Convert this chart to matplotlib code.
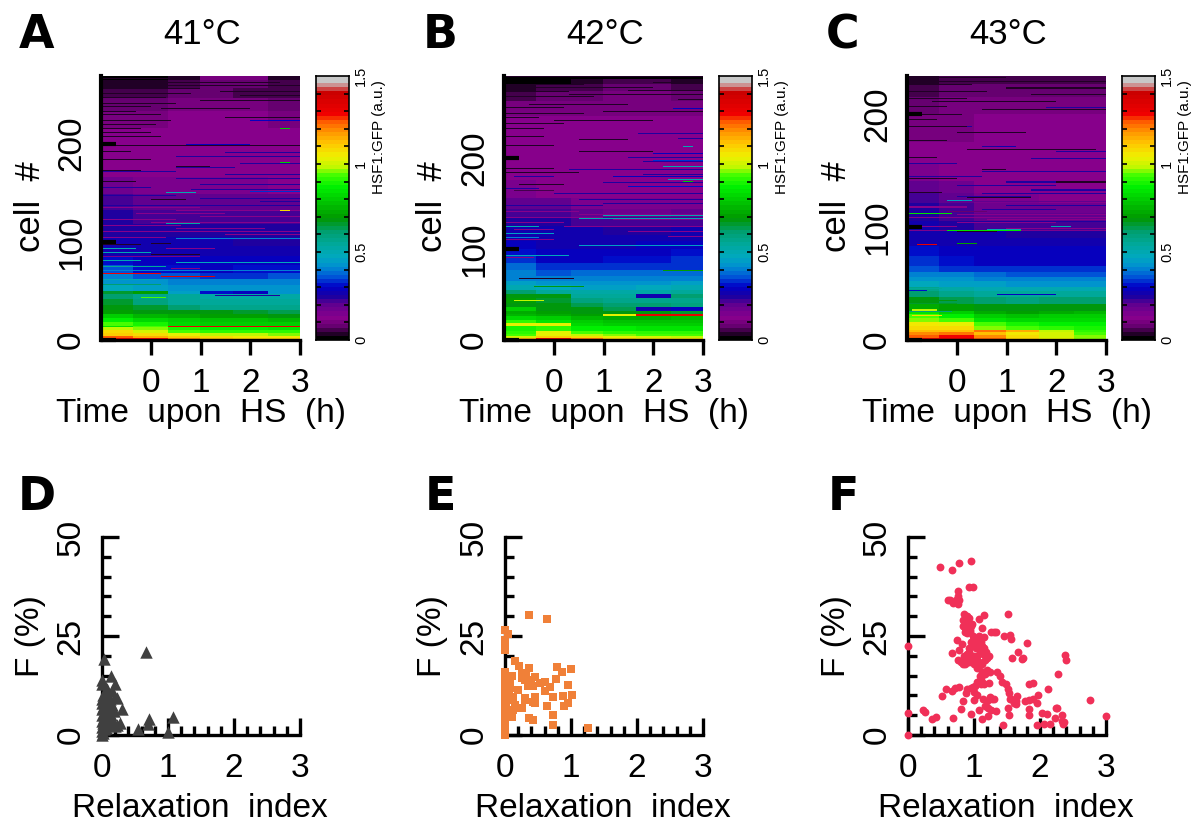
#!/usr/bin/env python3
# -*- coding: utf-8 -*-

"""
	heat maps of HSF1:GFP per cell, and F (%) against relaxation index
"""

import numpy as np
import matplotlib
matplotlib.use("Agg")
import matplotlib.pyplot as plt
from matplotlib.colors import LinearSegmentedColormap

plt.rcParams['font.family'] = ['Liberation Sans', 'DejaVu Sans']

W, H = 1191, 822

titles = ["41°C", "42°C", "43°C"]
heat_letters = ["A", "B", "C"]
scatter_letters = ["D", "E", "F"]
time_ticks = [0, 1, 2, 3]
cell_ticks = [0, 100, 200]
n_cells = [269, 290, 234]
time_edges = [-1, -0.33, 0.33, 1, 1.67, 2.33, 3]

# colour bar stops
cbar_values = [0, 0.03, 0.07, 0.12, 0.2, 0.24, 0.3, 0.36, 0.42, 0.47, 0.55, 0.62, 0.7, 0.78, 0.88, 0.95, 1.0, 1.06, 1.13, 1.2, 1.26, 1.31, 1.44, 1.46, 1.5]
cbar_colors = ["#000000", "#2a0030", "#660070", "#88008c", "#5c0090", "#1c00a0", "#0000c8", "#0058d8", "#0090d0", "#00a8c0", "#00a898", "#009f70", "#009800", "#00c000", "#00f000", "#40ff00", "#c0f800", "#f0f000", "#ffc800", "#ff9800", "#ff6000", "#f00000", "#c80000", "#d07070", "#c8c8c8"]

# bands of each heat map: top cell of band, then value in the six time columns
tops_a = [2, 4, 7, 10, 13, 14, 18, 22, 26, 30, 36, 42, 47, 50, 56, 62, 68, 76, 85, 95, 105, 118, 132, 148, 165, 185, 215, 232, 246, 256, 264, 269]
vals_a = [
	[1.33, 1.3, 1.2, 1.14, 1.12, 1.12],
	[1.26, 1.16, 1.12, 1.08, 1.07, 1.07],
	[1.12, 1.09, 1.04, 1.0, 1.0, 0.98],
	[1.08, 1.02, 0.96, 0.92, 0.92, 0.92],
	[1.0, 0.97, 0.9, 0.88, 0.88, 0.86],
	[0.86, 0.95, 1.3, 1.33, 1.33, 1.33],
	[0.96, 0.9, 0.84, 0.82, 0.82, 0.8],
	[0.88, 0.84, 0.8, 0.78, 0.78, 0.76],
	[0.8, 0.76, 0.74, 0.72, 0.72, 0.7],
	[0.72, 0.7, 0.68, 0.68, 0.66, 0.64],
	[0.68, 0.66, 0.62, 0.58, 0.58, 0.58],
	[0.66, 0.6, 0.56, 0.56, 0.55, 0.55],
	[0.62, 0.58, 0.54, 0.53, 0.52, 0.52],
	[0.66, 0.72, 0.46, 0.32, 0.3, 0.44],
	[0.47, 0.46, 0.44, 0.43, 0.43, 0.44],
	[0.44, 0.43, 0.41, 0.4, 0.4, 0.41],
	[0.42, 0.36, 0.36, 0.35, 0.35, 0.36],
	[0.36, 0.31, 0.31, 0.3, 0.31, 0.32],
	[0.32, 0.29, 0.29, 0.29, 0.29, 0.29],
	[0.28, 0.27, 0.27, 0.27, 0.27, 0.27],
	[0.27, 0.26, 0.26, 0.26, 0.25, 0.25],
	[0.25, 0.24, 0.24, 0.24, 0.24, 0.24],
	[0.24, 0.23, 0.23, 0.23, 0.23, 0.23],
	[0.22, 0.21, 0.2, 0.2, 0.2, 0.2],
	[0.18, 0.16, 0.15, 0.15, 0.15, 0.14],
	[0.14, 0.13, 0.13, 0.13, 0.13, 0.13],
	[0.12, 0.12, 0.12, 0.12, 0.12, 0.12],
	[0.1, 0.11, 0.12, 0.12, 0.12, 0.11],
	[0.08, 0.09, 0.1, 0.1, 0.1, 0.09],
	[0.05, 0.06, 0.08, 0.08, 0.07, 0.06],
	[0.03, 0.04, 0.06, 0.08, 0.08, 0.05],
	[0.01, 0.02, 0.03, 0.11, 0.11, 0.03],
]
tops_b = [2, 4, 7, 10, 15, 19, 22, 26, 28, 32, 36, 40, 46, 50, 55, 60, 65, 70, 77, 84, 92, 100, 108, 115, 125, 135, 143, 155, 175, 210, 245, 262, 272, 280, 286, 290]
vals_b = [
	[1.15, 1.34, 1.22, 1.12, 1.08, 1.08],
	[1.02, 1.12, 1.08, 1.04, 1.02, 1.0],
	[0.96, 1.04, 1.0, 0.97, 0.96, 0.96],
	[0.92, 1.05, 0.96, 0.92, 0.92, 0.92],
	[0.9, 0.92, 0.88, 0.87, 0.86, 0.86],
	[1.05, 1.05, 0.84, 0.82, 0.82, 0.82],
	[0.92, 0.86, 0.8, 0.78, 0.78, 0.78],
	[0.84, 0.8, 0.76, 0.74, 0.74, 0.76],
	[0.76, 0.74, 0.72, 1.05, 1.33, 1.33],
	[0.74, 0.72, 0.7, 0.68, 0.68, 0.66],
	[0.8, 0.7, 0.68, 0.64, 0.28, 0.3],
	[0.7, 0.68, 0.64, 0.62, 0.62, 0.6],
	[0.72, 0.66, 0.6, 0.58, 0.58, 0.58],
	[0.68, 0.7, 0.56, 0.56, 0.28, 0.62],
	[0.62, 0.56, 0.52, 0.52, 0.52, 0.54],
	[0.5, 0.48, 0.46, 0.46, 0.48, 0.5],
	[0.46, 0.43, 0.43, 0.43, 0.44, 0.45],
	[0.42, 0.41, 0.42, 0.42, 0.42, 0.42],
	[0.4, 0.37, 0.38, 0.38, 0.38, 0.38],
	[0.38, 0.33, 0.33, 0.33, 0.34, 0.35],
	[0.34, 0.3, 0.3, 0.31, 0.31, 0.33],
	[0.32, 0.29, 0.29, 0.3, 0.3, 0.31],
	[0.3, 0.28, 0.28, 0.28, 0.29, 0.29],
	[0.28, 0.27, 0.27, 0.27, 0.27, 0.28],
	[0.26, 0.26, 0.26, 0.25, 0.25, 0.26],
	[0.24, 0.24, 0.23, 0.22, 0.22, 0.23],
	[0.22, 0.22, 0.2, 0.18, 0.18, 0.19],
	[0.2, 0.19, 0.16, 0.15, 0.15, 0.16],
	[0.15, 0.14, 0.13, 0.13, 0.13, 0.13],
	[0.13, 0.12, 0.12, 0.12, 0.12, 0.12],
	[0.12, 0.12, 0.12, 0.12, 0.12, 0.12],
	[0.1, 0.1, 0.11, 0.11, 0.11, 0.1],
	[0.07, 0.08, 0.09, 0.1, 0.1, 0.09],
	[0.04, 0.05, 0.06, 0.08, 0.08, 0.07],
	[0.02, 0.02, 0.04, 0.06, 0.05, 0.04],
	[0.0, 0.0, 0.01, 0.02, 0.0, 0.0],
]
tops_c = [2, 4, 7, 9, 12, 16, 19, 23, 26, 32, 38, 43, 47, 52, 56, 60, 65, 74, 83, 90, 97, 105, 112, 121, 130, 140, 155, 175, 200, 215, 226, 234]
vals_c = [
	[1.36, 1.36, 1.26, 1.12, 1.04, 0.98],
	[1.26, 1.3, 1.2, 1.1, 1.03, 0.98],
	[1.2, 1.22, 1.14, 1.06, 1.02, 0.96],
	[1.14, 1.14, 1.22, 1.16, 1.0, 0.92],
	[1.08, 1.08, 0.98, 0.96, 0.92, 0.9],
	[1.06, 1.04, 0.94, 0.9, 0.88, 0.88],
	[0.98, 0.96, 0.86, 0.84, 0.84, 0.84],
	[0.94, 0.88, 0.8, 0.78, 0.8, 0.8],
	[0.86, 0.8, 0.74, 0.72, 0.74, 0.76],
	[0.74, 0.72, 0.68, 0.68, 0.68, 0.68],
	[0.68, 0.64, 0.62, 0.6, 0.62, 0.62],
	[0.62, 0.58, 0.56, 0.56, 0.56, 0.56],
	[0.58, 0.52, 0.5, 0.5, 0.5, 0.5],
	[0.47, 0.46, 0.46, 0.44, 0.44, 0.44],
	[0.44, 0.44, 0.42, 0.42, 0.41, 0.41],
	[0.4, 0.4, 0.38, 0.37, 0.37, 0.37],
	[0.36, 0.35, 0.33, 0.33, 0.33, 0.33],
	[0.33, 0.32, 0.3, 0.3, 0.3, 0.3],
	[0.32, 0.3, 0.29, 0.29, 0.29, 0.29],
	[0.28, 0.28, 0.27, 0.27, 0.27, 0.27],
	[0.27, 0.26, 0.26, 0.25, 0.25, 0.25],
	[0.26, 0.25, 0.23, 0.22, 0.22, 0.22],
	[0.25, 0.23, 0.2, 0.2, 0.2, 0.2],
	[0.24, 0.22, 0.17, 0.17, 0.17, 0.17],
	[0.23, 0.2, 0.15, 0.15, 0.14, 0.14],
	[0.2, 0.17, 0.13, 0.13, 0.13, 0.13],
	[0.16, 0.14, 0.12, 0.12, 0.12, 0.12],
	[0.13, 0.12, 0.12, 0.12, 0.12, 0.12],
	[0.11, 0.11, 0.12, 0.12, 0.12, 0.12],
	[0.09, 0.1, 0.11, 0.11, 0.11, 0.1],
	[0.06, 0.08, 0.09, 0.09, 0.09, 0.08],
	[0.03, 0.05, 0.06, 0.07, 0.07, 0.05],
]

# single rows that stand out: cell, time from, time to, value
stripes_a = [(43, -0.2, 0.3, 0.95), (45, 1.3, 2.6, 0.25), (56, -1, 0.2, 0.62), (61, -1, 0.1, 0.5), (64, 0.2, 1.3, 1.35), (67, -1, 0.2, 1.3), (70, -1, 3, 0.42), (74, -1, 0.3, 0.55), (78, 0.5, 3, 0.48), (80, -1, -0.2, 0.5), (84, -1, 1, 0.15), (88, -1, 0.0, 0.5), (92, -1, -0.3, 0.5), (97, 0.0, 0.4, 0.04), (103, 0.5, 3, 0.4), (118, 0.3, 1, 0.52), (149, 0.3, 0.9, 0.5), (150, 2.0, 3, 0.34), (198, 0.7, 2, 0.3), (222, 2.0, 3, 0.3), (214, 2.6, 2.8, 0.8), (131, 2.6, 2.8, 1.1), (180, 2.6, 2.8, 0.8)]
stripes_b = [(43, -0.8, -0.2, 1.0), (58, -0.4, 0.6, 0.68), (63, -0.4, 0.6, 0.05), (67, -0.7, 0.4, 0.04), (76, 2.2, 3, 0.72), (92, -1, 0.3, 0.48), (103, 0.5, 3, 0.46), (112, -1, -0.3, 0.42), (116, -1, 0, 0.45), (124, -1, -0.3, 0.5), (132, 0.5, 3, 0.5), (136, 1, 3, 0.5), (163, -0.8, 0, 0.06), (167, 1.5, 3, 0.32), (175, 2.3, 3, 0.5), (178, 1.2, 3, 0.3), (189, 2.2, 3, 0.5), (196, 2.0, 3, 0.34), (204, 2, 3, 0.3), (253, 2.4, 3, 0.3), (211, 2.6, 2.8, 0.5), (173, 2.6, 2.8, 0.8)]
stripes_c = [(25, -1, -0.1, 0.6), (21, -0.9, -0.3, 1.1), (26, -0.9, -0.4, 1.0), (32, -1, 0, 0.66), (34, -1, 0, 0.7), (40, 0.8, 2, 0.3), (43, -1, -0.6, 0.32), (45, -1, -0.3, 0.55), (84, -0.8, -0.4, 1.33), (85, 0, 0.4, 0.72), (96, -1, 3, 0.16), (96, -0.2, 1.3, 0.85), (97, 0.6, 1.3, 0.5), (100, 1.9, 2.3, 0.5), (104, 0, 3, 0.25), (111, -1, -0.1, 0.85), (113, -0.2, 0.6, 0.08), (117, -1, 0.2, 0.12), (122, 0, 3, 0.2), (123, -0.2, 0.3, 0.45), (170, 0.8, 1.2, 0.28)]

# dark rows that run in from the left or right: cell, time from, time to
dark_a = [(265, -1, 1.0), (261, -1, 2.6), (258, -1, 3), (255, -1, 1.0), (252, 1.4, 3), (250, -1, 0.8), (248, 1.8, 3), (246, -1, 0.3), (243, 1.0, 3), (240, -1, 0.5), (237, -1, 0.0), (234, 0.2, 2), (231, -1, -0.3), (228, -1, 0.2), (225, 1.5, 3), (222, -1, 0.4), (218, -1, 0.1), (214, -1, -0.2), (210, -1, 0.0), (206, -1, 0.2), (197, -0.7, 3), (191, -1, -0.4), (183, -1, 0.0), (176, 0.5, 1.2), (172, -1, -0.2), (167, -1, 0.0), (160, -1, -0.3), (142, 0.0, 0.7), (96, -1, -0.2), (86, 0, 1.0)]
dark_b = [(288, -1, 3), (284, -1, 1.5), (281, 2, 3), (279, -1, 0.6), (276, -1, 2.0), (273, 1.5, 3), (271, -1, 0.3), (268, 0.3, 3), (266, -1, 0.8), (263, 2.5, 3), (260, -1, 0.4), (257, -0.5, 1.5), (254, -1, 0.2), (250, 1, 3), (247, -1, 0.6), (243, -1, -0.3), (240, 0, 2), (236, -1, 0.2), (231, -1, -0.2), (226, 1.7, 3), (222, -1, -0.2), (219, 0.5, 1.5), (212, -1, 0), (206, 0.5, 2), (187, -1, 0.0), (183, -1, 0.5), (170, -0.7, 0.2)]
dark_c = [(231, -1, 1.0), (228, -1, 3), (225, -1, 0.3), (222, 1, 3), (219, -1, 0.6), (216, 1.5, 3), (213, -1, 0.2), (210, -0.5, 2), (206, -1, -0.2), (203, 0.5, 3), (199, -1, 0.1), (194, -1, -0.4), (188, -1, 0.2), (183, 0, 1.4), (176, -1, -0.2), (168, 0.2, 2.8), (161, -1, -0.4), (150, 0.5, 1.0), (142, -1, 0.0), (139, 2.0, 3), (130, -1, -0.3), (125, 0.2, 1.5), (95, 0.0, 0.8)]

# blue rows in the purple part: cell, time from, time to
blue_a = [(225, 1.5, 2.2), (190, 1.5, 3), (186, 0.5, 3), (183, -1, 0.0), (179, 1.8, 3), (175, 0.5, 1.7), (171, -1, 0.5), (168, 1.5, 3), (163, 0.5, 3), (157, 1.0, 3), (154, -1, 0.0), (152, 0.8, 3), (146, -1, 0.5), (143, 1.0, 3), (140, 2.2, 3), (136, -1, 3)]
blue_b = [(225, 1.7, 3), (220, 2.5, 3), (199, 1.5, 3), (195, 1.8, 3), (186, 0.3, 3), (181, 1.8, 3), (178, -0.8, 0.0), (172, 1.0, 3), (168, 0.5, 3), (165, -1, -0.3), (160, 0.0, 3), (156, -1, 0.0), (153, 0.5, 3), (149, 1.0, 3), (147, -1, 1.0)]
blue_c = [(205, 1.8, 3), (188, -1, 0.3), (170, 0.5, 1.2), (166, 2.0, 3), (160, 1.5, 3), (155, -1, 0.0), (148, 0.5, 3), (144, -1, 0.5), (139, 1.0, 3), (136, 0.0, 2.0), (132, 1.5, 3), (129, 0.5, 3), (126, 0.0, 1.5), (118, 1, 3), (115, 0.5, 2.0)]

# purple rows in the blue part: cell, time from, time to
purple_a = [(134, -1, 1.0), (131, 0.5, 3), (128, -0.3, 1.5), (125, 1, 3), (122, -1, 0.5), (119, 0.0, 3), (116, -1, 0.6), (113, 0.5, 2.3), (110, -1, 3), (107, 1.5, 3), (104, -1, 0.3), (100, 0.5, 3), (92, 0.3, 1.3), (72, 0.4, 1.0)]
purple_b = [(140, -1, 0.5), (137, 0.5, 3), (134, -1, 1), (131, 1.2, 3), (128, -1, 0.2), (124, 0.2, 3), (120, -0.8, 0.0), (118, 1.5, 3), (113, 2.3, 3), (109, -1, 0), (98, -1, 0.1), (90, -1, -0.4)]
purple_c = [(110, 0, 3), (108, -1, 3), (106, 0.6, 3), (103, 0, 2), (100, -1, 0.0), (98, 1, 3), (96, -0.6, -0.2)]

# F (%) against relaxation index
d_x = [0.67, 0.03, 0.14, 0.0, 0.0, 0.2, 0.15, 0.2, 0.23, 0.0, 0.08, 0.31, 0.0, 0.13, 0.71, 1.07, 0.69, 0.55, 1.0, 0.28, 0.23, 0.0, 0.02, 0.05, 0.08, 0.1, 0.12, 0.15, 0.18, 0.02, 0.04, 0.07, 0.1, 0.13, 0.0, 0.03, 0.06, 0.09, 0.12, 0.16, 0.0, 0.02, 0.05, 0.08, 0.11, 0.14, 0.19, 0.0, 0.03, 0.0, 0.02, 0.06, 0.0]
d_y = [21, 19.1, 14.8, 14, 12.9, 13, 11, 9.5, 9.3, 9, 9.3, 6.5, 6.5, 7, 4, 4.6, 2.8, 1.4, 0.7, 3.1, 2.5, 8, 10, 10.5, 11.5, 8.5, 9, 7.5, 6, 7, 6, 7.5, 6.5, 5, 5, 4.5, 5, 4, 3.5, 3, 3.5, 3, 3, 2.5, 2.5, 2.5, 2.3, 2, 1.5, 1, 0.5, 1.8, 0]
e_x = [0.37, 0.63, 0, 0.05, 0, 0, 0, 0, 0.15, 0.21, 0.37, 0.79, 0.86, 1.0, 0, 0.1, 0.26, 0.32, 0.25, 0.3, 0.45, 0.4, 0.35, 0.42, 0.35, 0.53, 0.6, 0.77, 0.95, 0.68, 0.6, 1.02, 0.88, 0.73, 0.95, 0.9, 0.63, 0.73, 0.72, 1.26, 0.36, 0.42, 0.3, 0.31, 0.46, 0.42, 0.45, 0.25, 0.21, 0.15, 0.12, 0.1, 0.07, 0.2, 0.12, 0.05, 0.02, 0.05, 0.03, 0.08, 0.06, 0.04, 0, 0, 0, 0, 0, 0, 0, 0, 0, 0, 0, 0, 0, 0, 0, 0, 0, 0, 0, 0]
e_y = [30.4, 29.3, 26.6, 25.5, 24, 23, 22.2, 21.5, 18.8, 17.3, 16.9, 17.1, 16, 16.7, 16, 14.8, 15.6, 15.6, 14.3, 13.9, 14.6, 13.9, 13.5, 12.4, 12.4, 13.1, 13.5, 14.1, 12.6, 12, 11, 10.1, 9.9, 9.7, 8.2, 7.2, 7.2, 5.1, 2.4, 1.7, 4.2, 3.8, 9.3, 8.9, 9.7, 8.4, 8.2, 6.7, 6.7, 7.6, 6.3, 4.6, 11.8, 11.4, 9.7, 8.9, 7.2, 12.5, 14.5, 13, 11, 10, 16, 15, 14, 13, 12, 11, 10, 9, 8, 7, 6, 5, 4.2, 3.5, 2.8, 2, 1.4, 0.9, 0.4, 0]
f_x = [0, 0, 0, 0.22, 0.25, 0.36, 0.42, 0.48, 0.66, 0.78, 0.95, 0.92, 0.99, 0.75, 0.6, 0.63, 0.75, 0.73, 0.78, 0.68, 0.75, 0.51, 0.58, 0.66, 0.71, 0.77, 0.68, 0.81, 0.83, 0.96, 1.0, 1.08, 1.12, 1.52, 1.15, 1.07, 0.85, 0.83, 0.86, 0.9, 0.93, 0.97, 0.84, 0.88, 0.92, 0.95, 0.86, 0.9, 0.94, 1.02, 1.08, 1.12, 1.15, 1.26, 1.3, 1.33, 1.45, 1.54, 1.56, 1.8, 1.67, 1.74, 1.72, 1.83, 1.57, 2.38, 2.39, 2.28, 2.75, 3.0, 0.74, 0.82, 0.67, 0.78, 0.85, 0.88, 0.92, 0.95, 0.98, 1.0, 1.03, 1.06, 1.09, 1.12, 1.15, 1.18, 0.76, 0.8, 0.84, 0.87, 0.9, 0.93, 0.96, 1.0, 1.04, 1.08, 1.12, 1.16, 1.2, 1.22, 1.0, 1.04, 1.08, 1.12, 1.16, 1.2, 1.24, 1.1, 1.15, 1.05, 1.02, 0.99, 0.95, 0.9, 0.88, 1.0, 1.05, 1.1, 1.14, 1.22, 1.14, 1.19, 1.24, 1.28, 1.17, 1.21, 1.26, 1.3, 1.34, 1.35, 1.4, 1.43, 1.49, 1.52, 1.53, 1.56, 1.63, 1.78, 1.83, 1.9, 1.6, 1.64, 1.52, 1.54, 1.65, 1.84, 1.9, 1.95, 2.03, 2.1, 2.15, 2.24, 2.26, 2.33, 2.22, 2.35, 2.37, 2.34, 1.96, 2.06, 1.44, 1.53, 1.83, 2.12, 1.97, 1.21, 1.14, 1.09, 0.87, 0.91, 0.95, 0.89, 0.93, 0.97, 1.01, 1.05, 1.09, 1.13, 0.98, 1.02, 1.06, 1.1, 0.86, 0.9, 0.94, 0.98, 1.02]
f_y = [22.6, 5.6, 0, 6.3, 5.7, 4.1, 4.5, 42.4, 41.7, 43.4, 43.9, 37.3, 37.3, 36.4, 34.1, 34, 35, 34.1, 34, 33.3, 33.1, 9.9, 11.7, 11.2, 11.9, 12, 4.3, 6.6, 8.7, 5.2, 8.9, 6.2, 4.1, 30.6, 30.4, 29.4, 30.5, 29, 28.5, 30, 29.5, 28, 27.5, 27, 26.5, 27.5, 26, 25.7, 26, 24.5, 25, 27, 24.8, 26, 26, 26, 25, 25.3, 24.2, 23.2, 21, 19.5, 19.2, 13, 19.5, 20.3, 18.9, 15.5, 8.8, 4.7, 24, 23, 20.8, 21.5, 20, 19.5, 22, 23.5, 24, 22.5, 22, 23, 21.5, 22.5, 22, 21, 19, 18.5, 18, 20, 19, 18.5, 19.5, 20, 19, 18.5, 18, 19, 19.5, 20, 18, 17, 17.5, 16, 15.5, 16.5, 16, 14.5, 13, 13.5, 12.5, 12, 11.8, 11.5, 10.5, 10.8, 10, 13, 13.2, 13.2, 9, 8.5, 9.5, 9, 7.2, 6.8, 6.4, 9.2, 6, 16, 15, 13.5, 13, 11.5, 10.5, 9, 8.5, 8.7, 8.8, 13.2, 8, 7.8, 6.8, 9, 9.8, 6.6, 9, 8, 5.5, 5.2, 2.8, 6.7, 6.8, 3.5, 4.2, 2.8, 3.2, 5, 2.5, 2.7, 2.5, 5, 5, 11.7, 10, 4.9, 16, 15, 18, 19, 20, 20.5, 21, 20, 19.5, 20, 21, 20.5, 23, 23.5, 24, 23.5, 27, 28.5, 26.5, 25, 24]

panel_x = [101, 504, 907]
fig = plt.figure(figsize=(W / 100, H / 100), dpi=100)


def add_axes_px(left, top, width, height):
	return fig.add_axes([left / W, 1 - (top + height) / H, width / W, height / H])


def text_px(x, y, s, **kw):
	fig.text(x / W, 1 - y / H, s, ha="center", va="center", **kw)


cmap = LinearSegmentedColormap.from_list("hsf1", [(v / 1.5, c) for v, c in zip(cbar_values, cbar_colors)], N=64)


def heat_matrix(n, tops, vals, stripes, dark, blue, purple):
	t_bins = np.linspace(-1, 3, 81)
	t_mid = (t_bins[:-1] + t_bins[1:]) / 2
	col = np.searchsorted(time_edges, t_mid) - 1
	m = np.zeros((n, len(t_mid)))
	start = 0
	for top, row in zip(tops, vals):
		m[start:top, :] = np.array(row)[col]
		start = top
	for cell, t0, t1 in purple:
		m[cell, (t_mid >= t0) & (t_mid < t1)] = 0.13
	for cell, t0, t1 in blue:
		m[cell, (t_mid >= t0) & (t_mid < t1)] = 0.25
	for cell, t0, t1 in dark:
		m[cell, (t_mid >= t0) & (t_mid < t1)] = 0.04
	for cell, t0, t1, v in stripes:
		m[cell, (t_mid >= t0) & (t_mid < t1)] = v
	return m


heat_data = [
	(tops_a, vals_a, stripes_a, dark_a, blue_a, purple_a),
	(tops_b, vals_b, stripes_b, dark_b, blue_b, purple_b),
	(tops_c, vals_c, stripes_c, dark_c, blue_c, purple_c),
]
for i, x0 in enumerate(panel_x):
	ax = add_axes_px(x0, 76, 199, 264)
	m = heat_matrix(n_cells[i], *heat_data[i])
	ax.imshow(m, origin="lower", extent=[-1, 3, 0, n_cells[i]], aspect="auto", cmap=cmap, vmin=0, vmax=1.5, interpolation="nearest")
	ax.spines["top"].set_visible(False)
	ax.spines["right"].set_visible(False)
	ax.spines["left"].set_linewidth(3)
	ax.spines["bottom"].set_linewidth(2.4)
	ax.set_xticks(time_ticks)
	ax.set_yticks(cell_ticks)
	ax.tick_params(axis="x", direction="out", length=11, width=2.4, labelsize=24, pad=9)
	ax.tick_params(axis="y", direction="in", length=11, width=3, labelsize=24, pad=10)
	for lab in ax.get_yticklabels():
		lab.set_rotation(90)
		lab.set_va("center")
	text_px(x0 + 100, 413, "Time  upon  HS  (h)", fontsize=24)
	text_px(x0 - 71, 207, "cell  #", fontsize=25, rotation=90)
	text_px(x0 + 101, 34, titles[i], fontsize=25)
	text_px(x0 - 64, 36, heat_letters[i], fontsize=33, fontweight="bold", family="DejaVu Sans")

	# colour bar
	cb = add_axes_px(x0 + 215, 76, 33, 264)
	levels = np.linspace(0, 1.5, 65).reshape(-1, 1)
	cb.imshow(levels, origin="lower", extent=[0, 1, 0, 1.5], aspect="auto", cmap=cmap, vmin=0, vmax=1.5, interpolation="nearest")
	cb.set_xticks([])
	cb.set_yticks(np.arange(0.1, 1.5, 0.1))
	cb.tick_params(axis="y", direction="in", length=3.5, width=1.2, left=True, right=True, labelleft=False)
	for s in cb.spines.values():
		s.set_linewidth(1.2)
	for v, lab in [(0, "0"), (0.5, "0.5"), (1, "1"), (1.5, "1.5")]:
		y = 340 - v / 1.5 * 264
		text_px(x0 + 260, y, lab, fontsize=10.5, rotation=90)
	text_px(x0 + 278, 137, "HSF1:GFP (a.u.)", fontsize=11, rotation=90)

scatter_x = [102, 505, 908]
scatter_data = [(d_x, d_y, "^", "#404040", 80), (e_x, e_y, "s", "#f08038", 30), (f_x, f_y, "o", "#f03058", 32)]
for i, x0 in enumerate(scatter_x):
	ax = add_axes_px(x0, 537, 198, 198)
	xs, ys, marker, color, size = scatter_data[i]
	ax.scatter(xs, ys, marker=marker, c=color, s=size, linewidths=0, clip_on=False, zorder=5)
	ax.set_xlim(0, 3)
	ax.set_ylim(0, 50)
	ax.spines["top"].set_visible(False)
	ax.spines["right"].set_visible(False)
	ax.spines["left"].set_linewidth(2.4)
	ax.spines["bottom"].set_linewidth(2.4)
	ax.set_xticks([0, 1, 2, 3])
	ax.set_xticks(np.arange(0, 3.01, 0.2), minor=True)
	ax.set_yticks([0, 25, 50])
	ax.set_yticks(np.arange(0, 50.1, 5), minor=True)
	ax.tick_params(axis="both", which="major", direction="in", length=12.5, width=2.4, labelsize=24)
	ax.tick_params(axis="both", which="minor", direction="in", length=6.5, width=2.4)
	ax.tick_params(axis="x", which="major", pad=13)
	ax.tick_params(axis="y", which="major", pad=11)
	for lab in ax.get_yticklabels():
		lab.set_rotation(90)
		lab.set_va("center")
	text_px(x0 + 98, 808, "Relaxation  index", fontsize=24)
	text_px(x0 - 72, 636, "F (%)", fontsize=24, rotation=90)
	text_px(x0 - 65, 497, scatter_letters[i], fontsize=33, fontweight="bold", family="DejaVu Sans")

fig.savefig("out.png", dpi=100)
